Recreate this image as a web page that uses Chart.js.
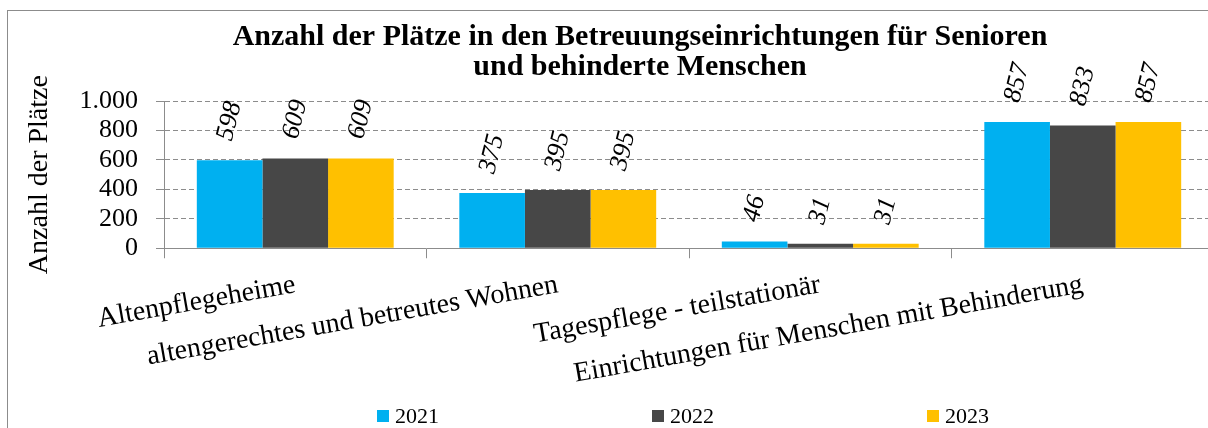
<!DOCTYPE html>
<html>
<head>
<meta charset="utf-8">
<script src="https://cdn.jsdelivr.net/npm/chart.js@4/dist/chart.umd.min.js"></script>
<style>
  html, body { margin: 0; padding: 0; background: #fff; overflow: hidden; }
  #frame { position: absolute; left: 7px; top: 10px; border-left: 1px solid #8c8c8c; border-top: 1px solid #8c8c8c; }
  canvas { display: block; }
</style>
</head>
<body>
<div id="frame">
  <canvas id="myChart" width="1264" height="432" style="width:1264px;height:432px"></canvas>
</div>
<script>
  // Daten
  const categories = ["Altenpflegeheime", "altengerechtes und betreutes Wohnen", "Tagespflege - teilstationär", "Einrichtungen für Menschen mit Behinderung"];
  const years = ["2021", "2022", "2023"];
  const values2021 = [598, 375, 46, 857];
  const values2022 = [609, 395, 31, 833];
  const values2023 = [609, 395, 31, 857];
  const yMax = 1000;
  const yStep = 200;
  const colors = ["#00B0F0", "#474747", "#FFC000"];

  Chart.defaults.font.family = '"Liberation Serif", "Times New Roman", serif';
  Chart.defaults.color = "#000";

  // Werte über den Säulen, schräg gestellt
  const valueLabels = {
    id: "valueLabels",
    afterDatasetsDraw(chart) {
      const ctx = chart.ctx;
      const ang = -76 * Math.PI / 180;
      ctx.save();
      ctx.font = 'italic 26px "Liberation Serif"';
      ctx.fillStyle = "#000";
      ctx.textAlign = "center";
      ctx.textBaseline = "middle";
      chart.data.datasets.forEach((ds, i) => {
        chart.getDatasetMeta(i).data.forEach((bar, j) => {
          const txt = String(ds.data[j]);
          const w = ctx.measureText(txt).width;
          const boxH = w * Math.sin(-ang) + 18 * Math.cos(ang);
          ctx.save();
          ctx.translate(bar.x, bar.y - 18 - boxH / 2);
          ctx.rotate(ang);
          ctx.fillText(txt, 0, 0);
          ctx.restore();
        });
      });
      ctx.restore();
    }
  };

  // Legende unten, weit auseinander
  const legendRow = {
    id: "legendRow",
    afterDraw(chart) {
      const ctx = chart.ctx;
      const area = chart.chartArea;
      const y = chart.height - 27;
      const step = 275;
      const x = (area.left + area.right) / 2 - 312;
      ctx.save();
      ctx.font = '22px "Liberation Serif"';
      ctx.textBaseline = "middle";
      chart.data.datasets.forEach((ds, i) => {
        const x0 = x + i * step;
        ctx.fillStyle = ds.backgroundColor;
        ctx.fillRect(x0, y - 6, 12, 12);
        ctx.fillStyle = "#000";
        ctx.fillText(ds.label, x0 + 18, y + 1);
      });
      ctx.restore();
    }
  };

  const ctx = document.getElementById("myChart");
  new Chart(ctx, {
    type: "bar",
    data: {
      labels: categories,
      datasets: [
        { label: years[0], data: values2021, backgroundColor: colors[0] },
        { label: years[1], data: values2022, backgroundColor: colors[1] },
        { label: years[2], data: values2023, backgroundColor: colors[2] }
      ]
    },
    options: {
      responsive: false,
      animation: false,
      devicePixelRatio: 1,
      categoryPercentage: 0.75,
      barPercentage: 1,
      layout: { padding: { left: 0, right: 0, top: 0, bottom: 42 } },
      plugins: {
        legend: { display: false },
        tooltip: { enabled: false },
        title: {
          display: true,
          text: ["Anzahl der Plätze in den Betreuungseinrichtungen für Senioren", "und behinderte Menschen"],
          font: { size: 30, weight: "bold", lineHeight: 1 },
          color: "#000",
          padding: { top: 11, bottom: 19 }
        }
      },
      scales: {
        x: {
          grid: { display: true, drawOnChartArea: false, drawTicks: true, tickLength: 10, color: "#8c8c8c" },
          border: { display: true, color: "#8c8c8c" },
          ticks: { autoSkip: false, minRotation: 10, maxRotation: 10, padding: 10, font: { size: 28 }, color: "#000" }
        },
        y: {
          min: 0,
          max: yMax,
          afterFit(s) { s.width = 156; },
          title: { display: true, text: "Anzahl der Plätze", font: { size: 28 }, color: "#000", padding: { top: 15, bottom: 0 } },
          grid: { color: "#8c8c8c", tickLength: 8 },
          border: { display: true, color: "#8c8c8c", dash: [5, 3] },
          ticks: {
            stepSize: yStep,
            autoSkip: false,
            padding: 18,
            font: { size: 26 },
            color: "#000",
            callback: (v) => v.toLocaleString("de-DE")
          }
        },
        yR: {
          position: "right",
          display: true,
          grid: { display: false },
          border: { display: false },
          ticks: { display: false },
          afterFit(s) { s.width = 58; }
        }
      }
    },
    plugins: [valueLabels, legendRow]
  });
</script>
</body>
</html>
